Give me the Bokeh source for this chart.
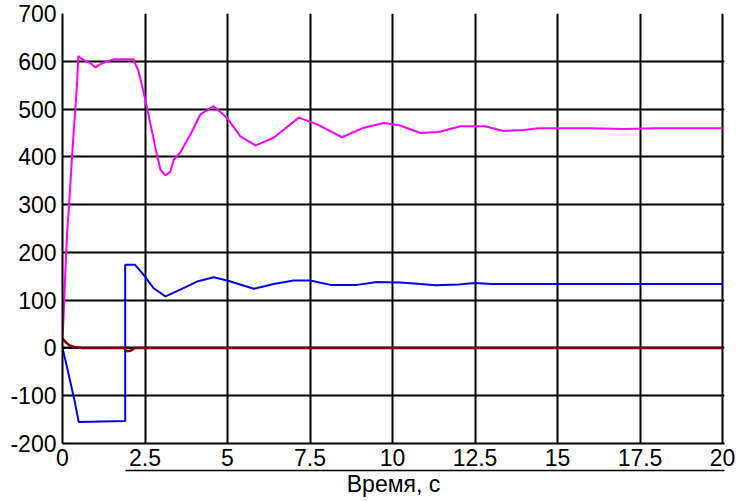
from bokeh.plotting import figure
from bokeh.models import FixedTicker, Range1d, LinearAxis
from bokeh.embed import file_html
from bokeh.resources import INLINE

# ---- data ----
t_magenta = [0, 0.03, 0.08, 0.14, 0.2, 0.26, 0.32, 0.39, 0.45, 0.48, 0.55, 0.7, 0.85, 1.0, 1.1,
             1.25, 1.55, 2.15, 2.3, 2.45, 2.57, 2.72, 2.87, 2.97, 3.12, 3.27, 3.37, 3.57, 3.9,
             4.18, 4.58, 4.98, 5.39, 5.85, 6.4, 7.16, 7.72, 8.47, 9.13, 9.74, 10.2, 10.85, 11.4,
             12.06, 12.8, 13.36, 14.0, 14.4, 16.0, 17.0, 18.0, 20.0]
v_magenta = [20, 60, 150, 240, 300, 367, 433, 501, 564, 611, 607, 600, 596, 587, 592,
             597, 604, 604, 580, 537, 499, 451, 401, 373, 361, 369, 394, 409, 450,
             489, 506, 482, 443, 424, 440, 482, 468, 441, 461, 471, 466, 450, 452,
             464, 464, 454, 456, 460, 460, 458, 460, 460]

t_blue = [0, 0.12, 0.25, 0.38, 0.49, 1.9, 1.9, 2.2, 2.46, 2.76, 3.12, 3.57, 4.08, 4.58, 4.99,
          5.8, 6.4, 7.0, 7.51, 8.12, 8.92, 9.53, 10.24, 10.85, 11.3, 12.0, 12.5, 13.0, 20.0]
v_blue = [0, -35, -75, -115, -155, -153, 174, 174, 153, 125, 108, 122, 139, 148, 141,
          124, 134, 141, 141, 132, 132, 138, 137, 134, 131, 133, 136, 134, 134]

t_red = [0, 0.1, 0.2, 0.35, 0.6, 1.88, 1.92, 2.05, 2.2, 20.0]
v_red = [20, 12, 6, 2, 0, 0, -7, -6, 0, 0]

t_black = [0, 20.0]
v_black = [0, 0]

x_ticks = [0, 2.5, 5, 7.5, 10, 12.5, 15, 17.5, 20]
x_tick_labels = ["0", "2.5", "5", "7.5", "10", "12.5", "15", "17.5", "20"]
y_ticks = [-200, -100, 0, 100, 200, 300, 400, 500, 600, 700]
y_tick_labels = ["-200", "-100", "0", "100", "200", "300", "400", "500", "600", "700"]
x_label = "Время, с"

FONT = "Liberation Sans"
FS = "23px"

p = figure(width=736, height=501, output_backend="svg", toolbar_location=None,
           x_range=Range1d(0, 20.06), y_range=Range1d(-200, 700),
           min_border_left=62, min_border_right=12, min_border_top=13, min_border_bottom=58)
p.outline_line_color = None
p.background_fill_color = "white"
p.border_fill_color = "white"

p.line(t_black, v_black, line_color="black", line_width=2)
p.line(t_magenta, v_magenta, line_color="#FF00FF", line_width=2)
p.line(t_blue, v_blue, line_color="#0000FF", line_width=2)
p.line(t_red, v_red, line_color="#8B0000", line_width=2.5)

p.xaxis.ticker = FixedTicker(ticks=x_ticks)
p.yaxis.ticker = FixedTicker(ticks=y_ticks)
p.xaxis.major_label_overrides = {k: s for k, s in zip(x_ticks, x_tick_labels)}
p.yaxis.major_label_overrides = {k: s for k, s in zip(y_ticks, y_tick_labels)}

for ax in (p.xaxis[0], p.yaxis[0]):
    ax.axis_line_color = "black"
    ax.axis_line_width = 2
    ax.major_tick_line_color = None
    ax.minor_tick_line_color = None
    ax.major_tick_out = 0
    ax.major_tick_in = 0
    ax.major_label_text_font = FONT
    ax.major_label_text_font_size = FS
    ax.major_label_text_color = "black"
p.xaxis.major_label_standoff = 5
p.yaxis.major_label_standoff = 6

# spacer axis (invisible) to push the separator line down
spacer = LinearAxis(ticker=FixedTicker(ticks=[10]), axis_line_color=None,
                    major_tick_line_color=None, minor_tick_line_color=None,
                    major_tick_out=2, major_tick_in=0, major_label_standoff=0,
                    major_label_text_font_size="0px", major_label_text_color=None,
                    major_label_overrides={10: ""})
p.add_layout(spacer, "below")

# separator line with the axis title right below it
sep = LinearAxis(ticker=FixedTicker(ticks=[]), axis_line_color="black", axis_line_width=1.5,
                 major_tick_line_color=None, minor_tick_line_color=None,
                 major_tick_out=0, major_tick_in=0, major_label_standoff=0,
                 bounds=(1.9, 20.06))
sep.axis_label = x_label
sep.axis_label_text_font = FONT
sep.axis_label_text_font_size = FS
sep.axis_label_text_font_style = "normal"
sep.axis_label_text_color = "black"
sep.axis_label_standoff = 0
p.add_layout(sep, "below")

p.grid.grid_line_color = "black"
p.grid.grid_line_width = 2
p.grid.grid_line_alpha = 1.0

open("out.html", "w").write(file_html(p, INLINE))
